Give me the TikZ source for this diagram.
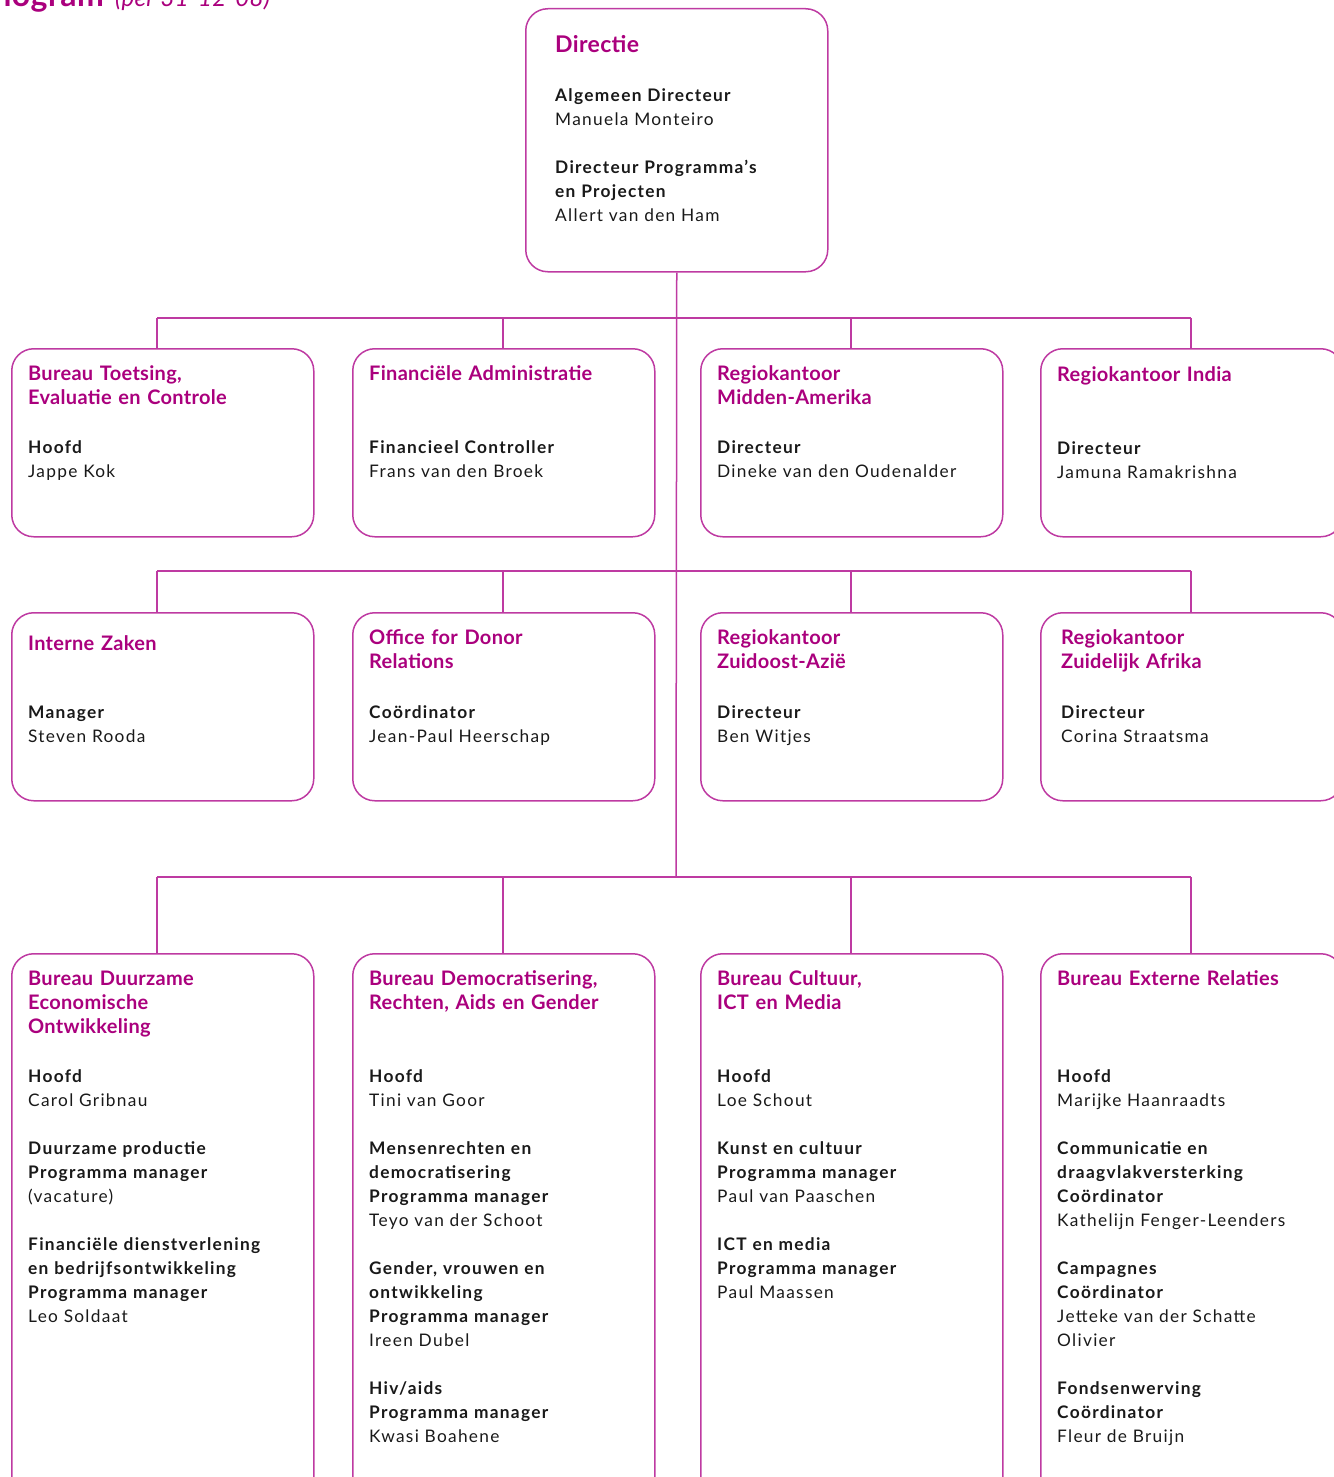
\documentclass[tikz,border=0pt]{standalone}
\usepackage{fontspec}
\setmainfont{Lato}
\newfontfamily\bodyfont{Lato}[LetterSpace=7.5]
\newfontfamily\headfont{Lato}[LetterSpace=1.5]
\definecolor{mag}{RGB}{170,0,125}
\definecolor{magline}{RGB}{190,58,162}
\tikzset{
  orgbox/.style={draw=magline, line width=1.5pt, rounded corners=22pt, minimum width=302pt, minimum height=188pt, anchor=north west, inner sep=0pt},
  tallbox/.style={orgbox, minimum height=560pt},
  dirbox/.style={orgbox, minimum height=263pt},
  head/.style={anchor=base west, inner sep=0pt, text=mag, text width=295pt, align=left, font=\headfont\bfseries\fontsize{20}{24}\selectfont},
  body/.style={anchor=base west, inner sep=0pt, text=black!90, text width=295pt, align=left, font=\bodyfont\fontsize{17.3}{24}\selectfont},
  conn/.style={draw=magline, line width=1.5pt},
}
\newcommand{\gap}{\\[24pt]}
\begin{document}
\begin{tikzpicture}[x=1pt,y=-1pt]
\useasboundingbox (0,0) rectangle (1333,1477);
% title (cut off by the top edge, as in the reference)
\node[anchor=base east, inner sep=0pt, text=mag, font=\headfont\bfseries\fontsize{32}{36}\selectfont] (ttl) at (104,7) {Organogram};
\node[anchor=base west, inner sep=0pt, text=mag, font=\headfont\itshape\fontsize{24}{26}\selectfont] (ttldate) at (115,7) {(per 31-12-08)};
% Directie
\node[dirbox] (dir) at (525,8) {};
\node[head, font=\headfont\bfseries\fontsize{23}{26}\selectfont] (dirh) at (555,53) {Directie};
\node[body] (dirt) at (555,102) {\textbf{Algemeen Directeur}\\Manuela Monteiro\gap\textbf{Directeur Programma’s}\\\textbf{en Projecten}\\Allert van den Ham};
% row 1
\node[orgbox] (b11) at (11,348) {};
\node[orgbox] (b12) at (352,348) {};
\node[orgbox] (b13) at (700,348) {};
\node[orgbox] (b14) at (1040,348) {};
\node[head] (h11) at (28,380) {Bureau Toetsing,\\Evaluatie en Controle};
\node[body] (t11) at (28,453) {\textbf{Hoofd}\\Jappe Kok};
\node[head] (h12) at (369,380) {Financiële Administratie};
\node[body] (t12) at (369,453) {\textbf{Financieel Controller}\\Frans van den Broek};
\node[head] (h13) at (717,380) {Regiokantoor\\Midden-Amerika};
\node[body] (t13) at (717,453) {\textbf{Directeur}\\Dineke van den Oudenalder};
\node[head] (h14) at (1057,381) {Regiokantoor India};
\node[body] (t14) at (1057,454) {\textbf{Directeur}\\Jamuna Ramakrishna};
% row 2
\node[orgbox] (b21) at (11,612) {};
\node[orgbox] (b22) at (352,612) {};
\node[orgbox] (b23) at (700,612) {};
\node[orgbox] (b24) at (1040,612) {};
\node[head] (h21) at (28,650) {Interne Zaken};
\node[body] (t21) at (28,718) {\textbf{Manager}\\Steven Rooda};
\node[head] (h22) at (369,644) {Office for Donor\\Relations};
\node[body] (t22) at (369,718) {\textbf{Coördinator}\\Jean-Paul Heerschap};
\node[head] (h23) at (717,644) {Regiokantoor\\Zuidoost-Azië};
\node[body] (t23) at (717,718) {\textbf{Directeur}\\Ben Witjes};
\node[head] (h24) at (1061,644) {Regiokantoor\\Zuidelijk Afrika};
\node[body] (t24) at (1061,718) {\textbf{Directeur}\\Corina Straatsma};
% row 3
\node[tallbox] (b31) at (11,953) {};
\node[tallbox] (b32) at (352,953) {};
\node[tallbox] (b33) at (700,953) {};
\node[tallbox] (b34) at (1040,953) {};
\node[head] (h31) at (28,985) {Bureau Duurzame\\Economische\\Ontwikkeling};
\node[body] (t31) at (28,1082) {\textbf{Hoofd}\\Carol Gribnau\gap\textbf{Duurzame productie}\\\textbf{Programma manager}\\(vacature)\gap\textbf{Financiële dienstverlening}\\\textbf{en bedrijfsontwikkeling}\\\textbf{Programma manager}\\Leo Soldaat};
\node[head] (h32) at (369,985) {Bureau Democratisering,\\Rechten, Aids en Gender};
\node[body] (t32) at (369,1082) {\textbf{Hoofd}\\Tini van Goor\gap\textbf{Mensenrechten en}\\\textbf{democratisering}\\\textbf{Programma manager}\\Teyo van der Schoot\gap\textbf{Gender, vrouwen en}\\\textbf{ontwikkeling}\\\textbf{Programma manager}\\Ireen Dubel\gap\textbf{Hiv/aids}\\\textbf{Programma manager}\\Kwasi Boahene};
\node[head] (h33) at (717,985) {Bureau Cultuur,\\ICT en Media};
\node[body] (t33) at (717,1082) {\textbf{Hoofd}\\Loe Schout\gap\textbf{Kunst en cultuur}\\\textbf{Programma manager}\\Paul van Paaschen\gap\textbf{ICT en media}\\\textbf{Programma manager}\\Paul Maassen};
\node[head] (h34) at (1057,985) {Bureau Externe Relaties};
\node[body] (t34) at (1057,1082) {\textbf{Hoofd}\\Marijke Haanraadts\gap\textbf{Communicatie en}\\\textbf{draagvlakversterking}\\\textbf{Coördinator}\\Kathelijn Fenger-Leenders\gap\textbf{Campagnes}\\\textbf{Coördinator}\\Jetteke van der Schatte\\Olivier\gap\textbf{Fondsenwerving}\\\textbf{Coördinator}\\Fleur de Bruijn};
% connectors
\coordinate (j3) at (676,877);
\foreach \r/\y in {1/318,2/571,3/877}{
  \coordinate (d\r1) at (157,\y);
  \coordinate (d\r2) at (503,\y);
  \coordinate (d\r3) at (851,\y);
  \coordinate (d\r4) at (1191,\y);
}
\draw[conn] (dir.south) -- (j3);
\foreach \r in {1,2,3}{
  \draw[conn] (d\r1) -- (d\r4);
  \foreach \c in {1,2,3,4}{
    \draw[conn] (d\r\c) -- (d\r\c |- b\r\c.north);
  }
}
\end{tikzpicture}
\end{document}
